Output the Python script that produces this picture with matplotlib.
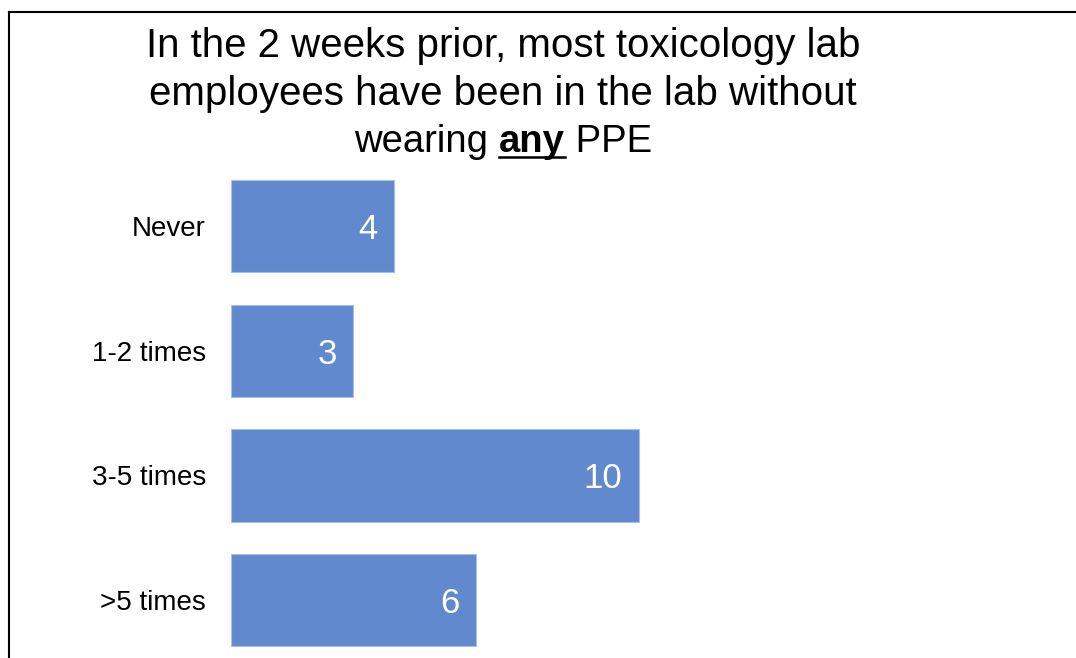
import matplotlib
matplotlib.use("Agg")
import matplotlib.pyplot as plt
from matplotlib.lines import Line2D

# dados do gráfico
categories = ['Never', '1-2 times', '3-5 times', '>5 times']
counts = [4, 3, 10, 6]
title_lines = ['In the 2 weeks prior, most toxicology lab',
               'employees have been in the lab without']
title_last = ['wearing ', 'any', ' PPE']

plt.rcParams['font.family'] = ['Liberation Sans', 'DejaVu Sans']

W, H = 1076, 658
fig = plt.figure(figsize=(W / 100, H / 100), dpi=100)

# eixo das barras (posições em pixels da figura)
ax = fig.add_axes([231 / W, (H - 662.4) / H, 816 / W, 498.7 / H])
ax.barh(range(len(categories)), counts, height=0.74, color='#6189CD',
        edgecolor='#a9bfe6', linewidth=0.8)
ax.set_ylim(len(categories) - 0.5, -0.5)
ax.set_xlim(0, 20)
ax.set_yticks(range(len(categories)))
ax.set_yticklabels(categories, fontsize=20)
ax.tick_params(axis='y', length=0, pad=18)
ax.set_xticks([])
for s in ax.spines.values():
    s.set_visible(False)

# rótulos de valor dentro das barras
for i, v in enumerate(counts):
    ax.annotate(str(v), (v, i), xytext=(-12, 0), textcoords='offset points',
                ha='right', va='center_baseline', color='white', fontsize=25,
                family=['Liberation Sans Narrow', 'Liberation Sans'])

# título
cx = 503
baselines = [57, 105, 152]
for line, yb in zip(title_lines, baselines):
    fig.text(cx / W, 1 - yb / H, line, ha='center', va='baseline',
             fontsize=29, color='black')

# última linha com "any" em negrito e sublinhado
renderer = fig.canvas.get_renderer()
parts = []
for k, txt in enumerate(title_last):
    t = fig.text(0, 1 - baselines[2] / H, txt, ha='left', va='baseline',
                 fontsize=27.5, color='black',
                 fontweight='bold' if k == 1 else 'normal')
    parts.append(t)
widths = [p.get_window_extent(renderer).width for p in parts]
x = cx - sum(widths) / 2
for p, w in zip(parts, widths):
    p.set_x(x / W)
    x += w
bb = parts[1].get_window_extent(renderer)
uy = 1 - (baselines[2] + 5) / H
fig.add_artist(Line2D([bb.x0 / W, bb.x1 / W], [uy, uy], color='black',
                      linewidth=1.8, transform=fig.transFigure))

# moldura (topo e esquerda)
fig.add_artist(Line2D([9 / W, 1], [1 - 12 / H, 1 - 12 / H], color='black',
                      linewidth=1.5, transform=fig.transFigure))
fig.add_artist(Line2D([9 / W, 9 / W], [1 - 12 / H, 0], color='black',
                      linewidth=1.5, transform=fig.transFigure))

fig.savefig('out.png', dpi=100)
